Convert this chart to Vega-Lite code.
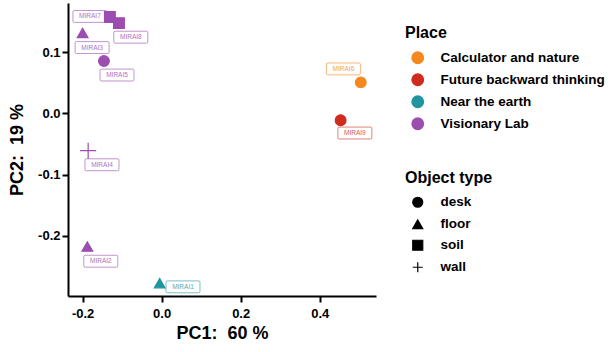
{
  "$schema": "https://vega.github.io/schema/vega-lite/v6.json",
  "width": 308,
  "height": 293,
  "autosize": {"type": "none"},
  "padding": {"left": 68, "top": 3, "right": 240, "bottom": 56},
  "background": "white",
  "config": {
    "view": {"stroke": null},
    "font": "Liberation Sans",
    "axis": {
      "grid": false,
      "domainColor": "black",
      "domainWidth": 2,
      "tickColor": "black",
      "tickWidth": 2,
      "tickSize": 6,
      "labelFont": "Liberation Sans",
      "labelFontWeight": "bold",
      "labelFontSize": 13,
      "labelColor": "black",
      "titleFont": "Liberation Sans",
      "titleFontWeight": "bold",
      "titleFontSize": 18,
      "titleColor": "black"
    },
    "legend": {
      "titleFont": "Liberation Sans",
      "titleFontWeight": "bold",
      "titleFontSize": 16,
      "titleColor": "black",
      "labelFont": "Liberation Sans",
      "labelFontWeight": "bold",
      "labelFontSize": 13.5,
      "labelColor": "black",
      "labelLimit": 400,
      "padding": 0
    }
  },
  "data": {
    "values": [
      {"sample": "MIRAI1", "Place": "Near the earth", "type": "floor", "PC1": -0.005, "PC2": -0.278, "lx": 0.054, "ly": -0.284},
      {"sample": "MIRAI2", "Place": "Visionary Lab", "type": "floor", "PC1": -0.188, "PC2": -0.218, "lx": -0.154, "ly": -0.242},
      {"sample": "MIRAI3", "Place": "Visionary Lab", "type": "floor", "PC1": -0.200, "PC2": 0.132, "lx": -0.176, "ly": 0.108},
      {"sample": "MIRAI4", "Place": "Visionary Lab", "type": "wall", "PC1": -0.186, "PC2": -0.061, "lx": -0.151, "ly": -0.084},
      {"sample": "MIRAI5", "Place": "Visionary Lab", "type": "desk", "PC1": -0.146, "PC2": 0.086, "lx": -0.113, "ly": 0.063},
      {"sample": "MIRAI6", "Place": "Calculator and nature", "type": "desk", "PC1": 0.504, "PC2": 0.051, "lx": 0.460, "ly": 0.073},
      {"sample": "MIRAI7", "Place": "Visionary Lab", "type": "soil", "PC1": -0.131, "PC2": 0.158, "lx": -0.1815, "ly": 0.159},
      {"sample": "MIRAI8", "Place": "Visionary Lab", "type": "soil", "PC1": -0.108, "PC2": 0.148, "lx": -0.078, "ly": 0.125},
      {"sample": "MIRAI9", "Place": "Future backward thinking", "type": "desk", "PC1": 0.453, "PC2": -0.011, "lx": 0.489, "ly": -0.032}
    ]
  },
  "layer": [
    {
      "mark": {
        "type": "point",
        "filled": false,
        "fill": "white",
        "fillOpacity": 1,
        "strokeWidth": 1,
        "strokeOpacity": 0.6,
        "opacity": 1,
        "size": 1156,
        "shape": "M-0.92,-0.35L0.92,-0.35Q1,-0.35 1,-0.27L1,0.27Q1,0.35 0.92,0.35L-0.92,0.35Q-1,0.35 -1,0.27L-1,-0.27Q-1,-0.35 -0.92,-0.35Z"
      },
      "encoding": {
        "x": {"field": "lx", "type": "quantitative"},
        "y": {"field": "ly", "type": "quantitative"},
        "color": {"field": "Place", "type": "nominal"}
      }
    },
    {
      "mark": {"type": "text", "fontSize": 6.5, "font": "Liberation Sans", "opacity": 0.8, "baseline": "middle", "align": "center"},
      "encoding": {
        "x": {"field": "lx", "type": "quantitative"},
        "y": {"field": "ly", "type": "quantitative"},
        "text": {"field": "sample"},
        "color": {"field": "Place", "type": "nominal"}
      }
    },
    {
      "mark": {"type": "point", "filled": true, "opacity": 1, "strokeWidth": 1.2},
      "encoding": {
        "x": {
          "field": "PC1", "type": "quantitative",
          "scale": {"domain": [-0.237, 0.5425], "nice": false, "zero": false},
          "axis": {
            "title": "PC1:\u00a0 60 %",
            "values": [-0.2, 0, 0.2, 0.4],
            "labelExpr": "datum.value < 0 ? '-' + format(-datum.value, '.1f') : format(datum.value, '.1f')",
            "labelPadding": 5,
            "titlePadding": 4
          }
        },
        "y": {
          "field": "PC2", "type": "quantitative",
          "scale": {"domain": [-0.299, 0.181], "nice": false, "zero": false},
          "axis": {
            "title": "PC2:\u00a0 19 %",
            "values": [-0.2, -0.1, 0, 0.1],
            "labelExpr": "datum.value < 0 ? '-' + format(-datum.value, '.1f') : format(datum.value, '.1f')",
            "labelPadding": 2,
            "titlePadding": 11
          }
        },
        "color": {
          "field": "Place", "type": "nominal",
          "scale": {
            "domain": ["Calculator and nature", "Future backward thinking", "Near the earth", "Visionary Lab"],
            "range": ["#F5871F", "#D12B1F", "#1F95A0", "#9B4DB0"]
          },
          "legend": {
            "title": "Place",
            "orient": "none",
            "legendX": 337,
            "legendY": 22,
            "symbolType": "circle",
            "symbolSize": 130,
            "symbolOffset": 6,
            "labelOffset": 16,
            "rowPadding": 4,
            "titlePadding": 10,
            "encode": {
              "symbols": {
                "update": {
                  "fill": {"scale": "color", "field": "value"},
                  "stroke": {"value": "transparent"},
                  "strokeWidth": {"value": 0},
                  "opacity": {"value": 1},
                  "size": {"value": 130}
                }
              }
            }
          }
        },
        "stroke": {
          "field": "Place", "type": "nominal",
          "scale": {
            "domain": ["Calculator and nature", "Future backward thinking", "Near the earth", "Visionary Lab"],
            "range": ["#F5871F", "#D12B1F", "#1F95A0", "#9B4DB0"]
          },
          "legend": null
        },
        "size": {"condition": {"test": "datum.type === 'wall'", "value": 260}, "value": 115},
        "shape": {
          "field": "type", "type": "nominal",
          "scale": {
            "domain": ["desk", "floor", "soil", "wall"],
            "range": ["circle", "triangle-up", "square", "M-1,0H1M0,-1V1"]
          },
          "legend": {
            "title": "Object type",
            "orient": "none",
            "legendX": 337,
            "legendY": 166.5,
            "symbolOffset": 6,
            "labelOffset": 16,
            "rowPadding": 6,
            "titlePadding": 10,
            "symbolFillColor": "black",
            "symbolStrokeColor": "black",
            "symbolStrokeWidth": 1.2,
            "encode": {
              "symbols": {
                "update": {
                  "fill": {"value": "black"},
                  "stroke": {"value": "black"},
                  "strokeWidth": {"value": 1.2},
                  "opacity": {"value": 1},
                  "size": {"signal": "datum.value === 'wall' ? 300 : 120"}
                }
              }
            }
          }
        }
      }
    }
  ]
}
